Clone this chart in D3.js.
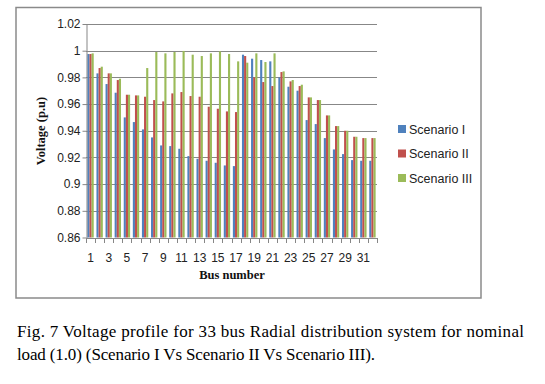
<!DOCTYPE html>
<html>
<head>
<meta charset="utf-8">
<script src="https://cdn.jsdelivr.net/npm/d3@7"></script>
<style>
  body { margin: 0; background: #fff; }
  svg { display: block; }
</style>
</head>
<body>
<div id="chart"></div>
<script>
// bus numbers on the x axis
const buses = d3.range(1, 33);
// voltage (p.u) per bus
const scenario1 = [0.9975, 0.983, 0.975, 0.9685, 0.950, 0.9465, 0.941, 0.935, 0.929, 0.9285,
  0.9265, 0.921, 0.919, 0.9175, 0.916, 0.914, 0.9135, 0.997, 0.994, 0.993,
  0.992, 0.980, 0.973, 0.970, 0.948, 0.945, 0.9345, 0.926, 0.9225, 0.918, 0.9175, 0.9175];
const scenario2 = [0.9975, 0.987, 0.983, 0.978, 0.967, 0.9665, 0.9655, 0.963, 0.962, 0.968,
  0.969, 0.966, 0.9655, 0.958, 0.9565, 0.9545, 0.954, 0.996, 0.980, 0.9765,
  0.9735, 0.984, 0.977, 0.9735, 0.965, 0.963, 0.9515, 0.9435, 0.940, 0.9355, 0.9345, 0.9345];
const scenario3 = [0.998, 0.988, 0.983, 0.979, 0.967, 0.9665, 0.987, 0.999, 0.998, 0.999,
  0.9998, 0.997, 0.996, 0.998, 0.9995, 0.9975, 0.992, 0.991, 0.998, 0.9915,
  0.998, 0.9845, 0.978, 0.9745, 0.965, 0.963, 0.9515, 0.9435, 0.940, 0.9355, 0.9345, 0.9345];
const seriesNames = ['Scenario I', 'Scenario II', 'Scenario III'];
const yTicks = [0.86, 0.88, 0.9, 0.92, 0.94, 0.96, 0.98, 1, 1.02];

const colors = ['#4F81BD', '#C0504D', '#9BBB59'];
const allSeries = [scenario1, scenario2, scenario3];

const width = 545, height = 384;
const plot = { left: 86, right: 377, top: 24, bottom: 237.5 };

const svg = d3.select('#chart').append('svg')
  .attr('width', width)
  .attr('height', height);

// chart frame
svg.append('rect')
  .attr('x', 16).attr('y', 7.5)
  .attr('width', 465).attr('height', 290.5)
  .attr('fill', '#fff')
  .attr('stroke', '#8a8a8a')
  .attr('stroke-width', 1.5);

const x = d3.scaleBand()
  .domain(buses)
  .range([plot.left, plot.right])
  .paddingInner(0.3)
  .paddingOuter(0.15);

const x1 = d3.scaleBand()
  .domain(d3.range(3))
  .range([0, x.bandwidth()]);

const y = d3.scaleLinear()
  .domain([0.86, 1.02])
  .range([plot.bottom, plot.top]);

// gridlines
svg.append('g')
  .selectAll('line')
  .data(yTicks.slice(1))
  .enter()
  .append('line')
  .attr('x1', plot.left).attr('x2', plot.right)
  .attr('y1', d => Math.round(y(d)) + 0.5)
  .attr('y2', d => Math.round(y(d)) + 0.5)
  .attr('stroke', '#878787')
  .attr('stroke-width', 1);

// bars
const groups = svg.append('g')
  .selectAll('g')
  .data(buses)
  .enter()
  .append('g')
  .attr('transform', d => `translate(${x(d)},0)`);

groups.selectAll('rect')
  .data((d, i) => allSeries.map((s, k) => ({ k, v: s[i] })))
  .enter()
  .append('rect')
  .attr('x', d => x1(d.k))
  .attr('width', x1.bandwidth())
  .attr('y', d => y(d.v))
  .attr('height', d => y(0.86) - y(d.v))
  .attr('fill', d => colors[d.k]);

// y axis
const yAxis = svg.append('g')
  .attr('transform', `translate(${plot.left + 0.5},0)`)
  .call(d3.axisLeft(y).tickValues(yTicks).tickSize(4).tickSizeOuter(0)
    .tickFormat(d => d3.format('')(+d.toFixed(2))));
yAxis.select('.domain').attr('stroke', '#878787');
yAxis.selectAll('.tick line').attr('stroke', '#878787');
yAxis.selectAll('.tick text')
  .attr('x', -6)
  .attr('font-family', 'Liberation Sans, Arial, sans-serif')
  .attr('font-size', 12)
  .attr('fill', '#222');

// x axis: Excel style ticks at category boundaries
const xg = svg.append('g');
xg.append('line')
  .attr('x1', plot.left).attr('x2', plot.right)
  .attr('y1', Math.round(plot.bottom) + 0.5).attr('y2', Math.round(plot.bottom) + 0.5)
  .attr('stroke', '#878787');
const step = x.step();
xg.selectAll('line.tk')
  .data(d3.range(buses.length + 1))
  .enter()
  .append('line')
  .attr('class', 'tk')
  .attr('x1', i => Math.round(plot.left + i * step) + 0.5)
  .attr('x2', i => Math.round(plot.left + i * step) + 0.5)
  .attr('y1', Math.round(plot.bottom))
  .attr('y2', Math.round(plot.bottom) + 5)
  .attr('stroke', '#878787');
xg.selectAll('text')
  .data(buses.filter(d => d % 2 === 1))
  .enter()
  .append('text')
  .attr('x', d => x(d) + x.bandwidth() / 2)
  .attr('y', 262)
  .attr('text-anchor', 'middle')
  .attr('font-family', 'Liberation Sans, Arial, sans-serif')
  .attr('font-size', 12)
  .attr('fill', '#222')
  .text(d => d);

// axis titles
svg.append('text')
  .attr('transform', 'translate(45,131) rotate(-90)')
  .attr('text-anchor', 'middle')
  .attr('font-family', 'Liberation Serif, Times New Roman, serif')
  .attr('font-weight', 'bold')
  .attr('font-size', 12.5)
  .attr('fill', '#111')
  .text('Voltage (p.u)');

svg.append('text')
  .attr('x', 232).attr('y', 279)
  .attr('text-anchor', 'middle')
  .attr('font-family', 'Liberation Serif, Times New Roman, serif')
  .attr('font-weight', 'bold')
  .attr('font-size', 12.5)
  .attr('fill', '#111')
  .text('Bus number');

// legend
const legend = svg.append('g')
  .selectAll('g')
  .data(seriesNames)
  .enter()
  .append('g')
  .attr('transform', (d, i) => `translate(398,${129 + i * 24.5})`);
legend.append('rect')
  .attr('x', 0).attr('y', -4)
  .attr('width', 8).attr('height', 8)
  .attr('fill', (d, i) => colors[i]);
legend.append('text')
  .attr('x', 11).attr('y', 4.5)
  .attr('font-family', 'Liberation Sans, Arial, sans-serif')
  .attr('font-size', 12.5)
  .attr('fill', '#222')
  .text(d => d);

// caption
const caption = svg.append('g')
  .attr('font-family', 'Liberation Serif, Times New Roman, serif')
  .attr('font-size', 17)
  .attr('fill', '#000');
caption.append('text')
  .attr('x', 17).attr('y', 337)
  .attr('textLength', 507)
  .attr('lengthAdjust', 'spacing')
  .text('Fig. 7 Voltage profile for 33 bus Radial distribution system for nominal');
caption.append('text')
  .attr('x', 17).attr('y', 360)
  .attr('textLength', 358)
  .attr('lengthAdjust', 'spacing')
  .text('load (1.0) (Scenario I Vs Scenario II Vs Scenario III).');
</script>
</body>
</html>
